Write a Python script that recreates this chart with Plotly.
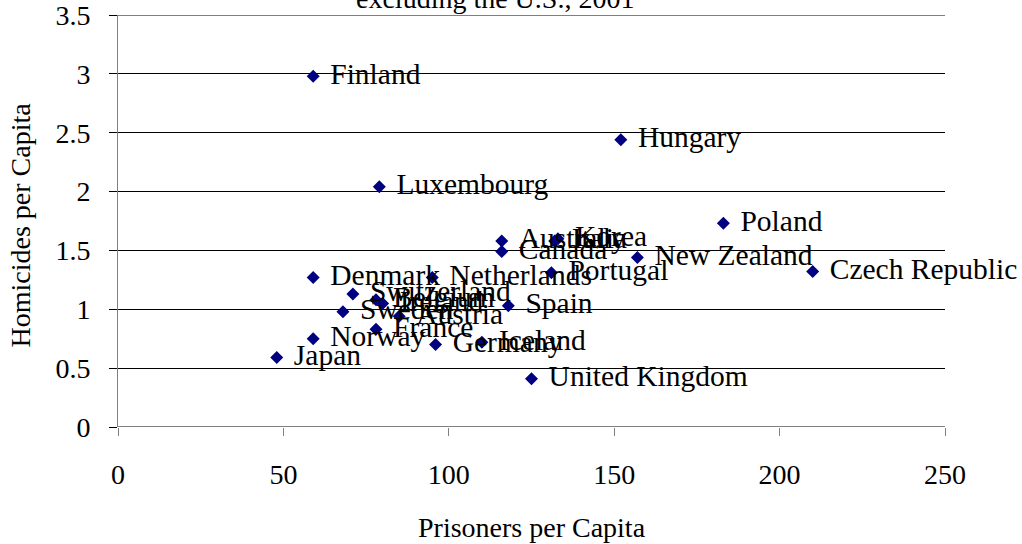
import plotly.graph_objects as go

# Prisoners vs homicides per capita, OECD countries excluding the U.S., 2001
countries = ["Finland", "Hungary", "Luxembourg", "Poland", "Australia", "Canada",
             "Korea", "Italy", "New Zealand", "Czech Republic", "Portugal",
             "Denmark", "Netherlands", "Switzerland", "Belgium", "Ireland",
             "Sweden", "Austria", "Spain", "France", "Norway", "Japan",
             "Germany", "Iceland", "United Kingdom"]
prisoners = [59, 152, 79, 183, 116, 116,
             133, 132, 157, 210, 131,
             59, 95, 71, 78, 80,
             68, 85, 118, 78, 59, 48,
             96, 110, 125]
homicides = [2.98, 2.44, 2.04, 1.73, 1.58, 1.49,
             1.60, 1.58, 1.44, 1.32, 1.31,
             1.27, 1.27, 1.13, 1.08, 1.05,
             0.98, 0.94, 1.03, 0.83, 0.75, 0.59,
             0.70, 0.72, 0.41]

serif = "Liberation Serif"
fs = 28

fig = go.Figure(go.Scatter(
    x=prisoners, y=homicides, text=[" \u200a" + c for c in countries],
    mode="markers+text", textposition="middle right",
    marker=dict(symbol="diamond", size=10, color="#000080"),
    textfont=dict(family=serif, size=29.5, color="black"),
    cliponaxis=False, hoverinfo="skip",
))

fig.update_layout(
    width=1022, height=544,
    margin=dict(l=118, r=77, t=15, b=117, autoexpand=False),
    paper_bgcolor="white", plot_bgcolor="white",
    showlegend=False,
    font=dict(family=serif, size=fs, color="black"),
)
fig.update_xaxes(
    range=[0, 250], dtick=50, showgrid=False, zeroline=False, automargin=False,
    ticks="outside", ticklen=8, tickcolor="gray", ticklabelstandoff=14,
    tickfont=dict(size=fs),
)
fig.update_yaxes(
    range=[0, 3.5], dtick=0.5, showgrid=True, gridcolor="black", gridwidth=1,
    zeroline=False, showline=True, linecolor="gray", automargin=False,
    ticks="outside", ticklen=8, tickcolor="black", ticklabelstandoff=13,
    ticklabeloverflow="allow", tickfont=dict(size=fs),
)
# baseline and top gridline (plotly skips grid lines on the plot edges)
for yv in (0, 3.5):
    fig.add_shape(type="line", xref="x", yref="y", x0=0, x1=250, y0=yv, y1=yv,
                  line=dict(color="black", width=1))

# titles
fig.add_annotation(text="excluding the U.S., 2001", xref="paper", yref="paper",
                   x=0.456, y=1.041, xanchor="center", yanchor="middle",
                   showarrow=False, font=dict(family=serif, size=fs))
fig.add_annotation(text="Prisoners per Capita", xref="paper", yref="paper",
                   x=0.5, y=-0.245, xanchor="center", yanchor="middle",
                   showarrow=False, font=dict(family=serif, size=fs))
fig.add_annotation(text="Homicides per Capita", xref="paper", yref="paper",
                   x=-0.118, y=0.49, xanchor="center", yanchor="middle",
                   textangle=-90, showarrow=False, font=dict(family=serif, size=fs))

fig.write_html("out.html", config={"displayModeBar": False},
               post_script="document.body.style.margin='0';")
